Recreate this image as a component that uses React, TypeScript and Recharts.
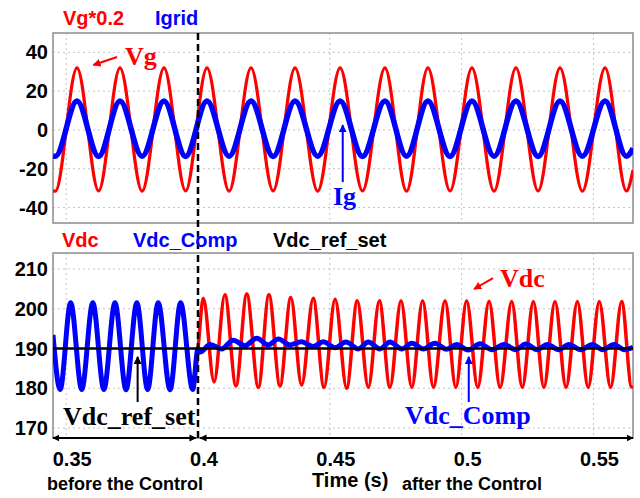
import {
  LineChart,
  Line,
  XAxis,
  YAxis,
  CartesianGrid,
  ReferenceLine,
  ReferenceArea,
} from 'recharts';

const SANS = '"Liberation Sans", Arial, sans-serif';
const SERIF = '"Liberation Serif", "Times New Roman", serif';

// x axis (s)
const timeDomain = [0.345, 0.565];
const timeTicks = [0.35, 0.4, 0.45, 0.5, 0.55];
const gridTimes = [0.35, 0.45, 0.5, 0.55];

// top panel: Vg*0.2 and Igrid, extremes
const acTicks = [-40, -20, 0, 20, 40];
const acTimes = [
  0.345, 0.3459, 0.3541, 0.3623, 0.3704, 0.3788, 0.3871, 0.3953, 0.4034,
  0.4118, 0.4201, 0.4285, 0.4368, 0.4454, 0.4539, 0.4624, 0.4709, 0.4791,
  0.4872, 0.4956, 0.5039, 0.5123, 0.5206, 0.529, 0.5373, 0.5458, 0.5544,
  0.5625, 0.565,
];
const vgValues = [
  -31.4, -31.6, 32.0, -31.5, 32.0, -31.6, 32.0, -31.5, 32.0, -31.6, 32.0,
  -31.5, 32.0, -31.6, 32.0, -31.5, 32.0, -31.6, 32.0, -31.5, 32.0, -31.6,
  32.0, -31.5, 32.0, -31.6, 32.0, -31.5, -20.7,
];
const igridValues = [
  -13.4, -13.6, 14.9, -13.7, 14.9, -13.6, 14.9, -13.7, 14.9, -13.6, 14.9,
  -13.7, 14.9, -13.6, 14.9, -13.7, 14.9, -13.6, 14.9, -13.7, 14.9, -13.6,
  14.9, -13.7, 14.9, -13.6, 14.9, -13.6, -9.5,
];

// bottom panel: Vdc, Vdc_Comp, Vdc_ref_set
const dcTicks = [170, 180, 190, 200, 210];
const beforeTimes = [
  0.345, 0.3477, 0.3517, 0.3559, 0.3601, 0.3643, 0.3685, 0.3727, 0.3768,
  0.3809, 0.3849, 0.3894, 0.3934, 0.398, 0.4,
];
const beforeValues = [
  193.4, 179.7, 201.5, 179.7, 201.5, 179.7, 201.5, 179.6, 201.5, 179.7,
  201.5, 179.6, 201.5, 179.7, 190.0,
];
const vdcAfterTimes = [
  0.402, 0.4061, 0.4102, 0.4144, 0.4185, 0.4229, 0.4269, 0.4311, 0.4352,
  0.4393, 0.4437, 0.4478, 0.452, 0.4564, 0.4604, 0.4646, 0.4688, 0.4728,
  0.477, 0.4811, 0.4852, 0.4893, 0.4937, 0.4978, 0.5019, 0.5061, 0.5104,
  0.5146, 0.519, 0.523, 0.5272, 0.5312, 0.5354, 0.5396, 0.5439, 0.548,
  0.5522, 0.5565, 0.5607, 0.5645, 0.565,
];
const vdcAfterValues = [
  202.6, 181.6, 203.5, 180.6, 203.7, 180.2, 203.5, 180.6, 202.8, 180.8,
  202.6, 180.2, 202.4, 180.0, 202.0, 180.2, 202.0, 180.2, 202.0, 180.2,
  202.0, 180.2, 202.0, 180.2, 202.0, 180.2, 201.9, 180.2, 201.8, 180.2,
  201.8, 180.2, 201.8, 180.2, 201.8, 180.2, 201.8, 180.2, 201.8, 180.3,
  180.5,
];
const compAfterTimes = [
  0.4008, 0.4046, 0.409, 0.4133, 0.4178, 0.4223, 0.4267, 0.4305, 0.4349,
  0.4393, 0.4437, 0.4475, 0.452, 0.4561, 0.4608, 0.4646, 0.469, 0.4728,
  0.4773, 0.4811, 0.4855, 0.4899, 0.4943, 0.4981, 0.5025, 0.507, 0.5115,
  0.5161, 0.5205, 0.5243, 0.5287, 0.5325, 0.5369, 0.5407, 0.5452, 0.5496,
  0.5534, 0.5578, 0.5616, 0.565,
];
const compAfterValues = [
  189.1, 191.0, 189.9, 192.1, 190.7, 192.6, 190.9, 192.4, 190.9, 191.7,
  190.5, 191.7, 190.2, 191.6, 189.9, 191.6, 189.9, 191.6, 189.9, 191.3,
  189.9, 191.3, 189.8, 191.0, 189.6, 191.2, 189.7, 191.0, 189.7, 191.1,
  189.7, 191.0, 189.7, 191.0, 189.7, 191.0, 189.7, 191.0, 189.7, 190.3,
];
const refTimes = [0.345, 0.565];
const refValues = [190, 190];

const toPoints = (ts: number[], vs: number[]) =>
  ts.map((t, i) => ({ t, v: vs[i] }));

const vgData = toPoints(acTimes, vgValues);
const igridData = toPoints(acTimes, igridValues);
const vdcData = toPoints(
  [...beforeTimes, ...vdcAfterTimes],
  [...beforeValues, ...vdcAfterValues]
);
const compData = toPoints(
  [...beforeTimes, ...compAfterTimes],
  [...beforeValues, ...compAfterValues]
);
const refData = toPoints(refTimes, refValues);

const tickStyle = { fontSize: 20, fontWeight: 'bold', fill: '#000', fontFamily: SANS };

const arrow = (id: string, both = false) => (p: any) => (
  <line
    x1={p.x1}
    y1={p.y1}
    x2={p.x2}
    y2={p.y2}
    stroke={p.stroke}
    strokeWidth={p.strokeWidth}
    markerEnd={`url(#${id})`}
    markerStart={both ? `url(#${id})` : undefined}
  />
);

function Markers({ prefix }: { prefix: string }) {
  const heads: [string, string][] = [
    ['r', '#ff0000'],
    ['b', '#0000ff'],
    ['k', '#000000'],
  ];
  return (
    <defs>
      {heads.map(([k, c]) => (
        <marker
          key={k}
          id={`${prefix}-${k}`}
          viewBox="0 0 10 10"
          refX="9"
          refY="5"
          markerWidth="4"
          markerHeight="4"
          orient="auto-start-reverse"
        >
          <path d="M0,0 L10,5 L0,10 z" fill={c} />
        </marker>
      ))}
    </defs>
  );
}

function TopPanel() {
  return (
    <LineChart
      width={640}
      height={253}
      margin={{ top: 33, right: 7, bottom: 30, left: 8 }}
    >
      <Markers prefix="top" />
      <CartesianGrid
        horizontalValues={acTicks}
        verticalValues={gridTimes}
        stroke="#c4c4c4"
        strokeDasharray="2 3"
      />
      <XAxis
        dataKey="t"
        type="number"
        domain={timeDomain}
        allowDataOverflow
        hide
      />
      <YAxis
        type="number"
        domain={[-48, 50]}
        ticks={acTicks}
        allowDataOverflow
        width={45}
        axisLine={false}
        tickLine={false}
        tickSize={3}
        tickMargin={2}
        tick={tickStyle}
      />
      <ReferenceArea
        x1={0.345}
        x2={0.565}
        y1={-48}
        y2={50}
        fill="none"
        stroke="#8c8c8c"
        strokeWidth={1.5}
        ifOverflow="visible"
      />
      <Line
        data={vgData}
        dataKey="v"
        type="monotone"
        stroke="#ff0000"
        strokeWidth={3.2}
        dot={false}
        activeDot={false}
        isAnimationActive={false}
      />
      <Line
        data={igridData}
        dataKey="v"
        type="monotone"
        stroke="#0000ff"
        strokeWidth={5.5}
        dot={false}
        activeDot={false}
        isAnimationActive={false}
      />
      <ReferenceLine
        segment={[
          { x: 0.4, y: 50 },
          { x: 0.4, y: -63.5 },
        ]}
        stroke="#000"
        strokeWidth={2.5}
        strokeDasharray="7 4"
        ifOverflow="visible"
      />
      <ReferenceLine
        segment={[
          { x: 0.3693, y: 37.6 },
          { x: 0.3603, y: 33.5 },
        ]}
        stroke="#ff0000"
        strokeWidth={2}
        ifOverflow="visible"
        shape={arrow('top-r')}
      />
      <ReferenceLine
        segment={[
          { x: 0.4549, y: -26.9 },
          { x: 0.4549, y: 2.5 },
        ]}
        stroke="#0000ff"
        strokeWidth={2}
        ifOverflow="visible"
        shape={arrow('top-b')}
      />
    </LineChart>
  );
}

function BottomPanel() {
  return (
    <LineChart
      width={640}
      height={272}
      margin={{ top: 27, right: 7, bottom: 30, left: 8 }}
    >
      <Markers prefix="bot" />
      <CartesianGrid
        horizontalValues={dcTicks}
        verticalValues={gridTimes}
        stroke="#c4c4c4"
        strokeDasharray="2 3"
      />
      <XAxis
        dataKey="t"
        type="number"
        domain={timeDomain}
        ticks={timeTicks}
        allowDataOverflow
        height={30}
        axisLine={false}
        tickLine={false}
        tickSize={8}
        tickMargin={6}
        tick={{ ...tickStyle, dx: 6 }}
        tickFormatter={(v: number) => String(v)}
      />
      <YAxis
        type="number"
        domain={[167.5, 214]}
        ticks={dcTicks}
        allowDataOverflow
        width={45}
        axisLine={false}
        tickLine={false}
        tickSize={3}
        tickMargin={2}
        tick={tickStyle}
      />
      <ReferenceArea
        x1={0.345}
        x2={0.565}
        y1={167.5}
        y2={214}
        fill="none"
        stroke="#8c8c8c"
        strokeWidth={1.5}
        ifOverflow="visible"
      />
      <Line
        data={vdcData}
        dataKey="v"
        type="monotone"
        stroke="#ff0000"
        strokeWidth={3.5}
        dot={false}
        activeDot={false}
        isAnimationActive={false}
      />
      <Line
        data={compData}
        dataKey="v"
        type="monotone"
        stroke="#0000ff"
        strokeWidth={5}
        dot={false}
        activeDot={false}
        isAnimationActive={false}
      />
      <Line
        data={refData}
        dataKey="v"
        type="linear"
        stroke="#000"
        strokeWidth={2.5}
        dot={false}
        activeDot={false}
        isAnimationActive={false}
      />
      <ReferenceLine
        x={0.4}
        stroke="#000"
        strokeWidth={2.5}
        strokeDasharray="7 4"
        ifOverflow="visible"
      />
      <ReferenceLine
        segment={[
          { x: 0.345, y: 167.5 },
          { x: 0.3992, y: 167.5 },
        ]}
        stroke="#000"
        strokeWidth={1.8}
        ifOverflow="visible"
        shape={arrow('bot-k', true)}
      />
      <ReferenceLine
        segment={[
          { x: 0.4008, y: 167.5 },
          { x: 0.565, y: 167.5 },
        ]}
        stroke="#000"
        strokeWidth={1.8}
        ifOverflow="visible"
        shape={arrow('bot-k', true)}
      />
      <ReferenceLine
        segment={[
          { x: 0.5119, y: 207.7 },
          { x: 0.5047, y: 204.95 },
        ]}
        stroke="#ff0000"
        strokeWidth={2}
        ifOverflow="visible"
        shape={arrow('bot-r')}
      />
      <ReferenceLine
        segment={[
          { x: 0.3771, y: 176.55 },
          { x: 0.3771, y: 187.9 },
        ]}
        stroke="#000"
        strokeWidth={2}
        ifOverflow="visible"
        shape={arrow('bot-k')}
      />
      <ReferenceLine
        segment={[
          { x: 0.5027, y: 176.55 },
          { x: 0.5027, y: 187.9 },
        ]}
        stroke="#0000ff"
        strokeWidth={2}
        ifOverflow="visible"
        shape={arrow('bot-b')}
      />
    </LineChart>
  );
}

function Labels() {
  const legend = { fontFamily: SANS, fontSize: 20, fontWeight: 'bold' };
  const note = { fontFamily: SERIF, fontSize: 26, fontWeight: 'bold' };
  const caption = { fontFamily: SANS, fontSize: 18, fontWeight: 'bold' };
  return (
    <svg
      width={640}
      height={498}
      style={{ position: 'absolute', left: 0, top: 0, pointerEvents: 'none' }}
    >
      <text x={63} y={25} fill="#ff0000" {...legend}>Vg*0.2</text>
      <text x={155} y={25} fill="#0000ff" {...legend}>Igrid</text>
      <text x={62} y={247} fill="#ff0000" {...legend}>Vdc</text>
      <text x={133} y={247} fill="#0000ff" {...legend}>Vdc_Comp</text>
      <text x={273} y={247} fill="#000" {...legend}>Vdc_ref_set</text>

      <text x={125} y={65} fill="#ff0000" {...note}>Vg</text>
      <text x={333} y={205} fill="#0000ff" {...note}>Ig</text>
      <text x={500} y={287} fill="#ff0000" {...note}>Vdc</text>
      <text x={63} y={425} fill="#000" {...note}>Vdc_ref_set</text>
      <text x={405} y={424} fill="#0000ff" {...note}>Vdc_Comp</text>

      <text x={312} y={487} fill="#000" fontFamily={SANS} fontSize={20} fontWeight="bold">
        Time (s)
      </text>
      <text x={47} y={490} fill="#000" {...caption}>before the Control</text>
      <text x={402} y={490} fill="#000" {...caption}>after the Control</text>
    </svg>
  );
}

export default function App() {
  return (
    <div
      style={{
        position: 'absolute',
        left: 0,
        top: 0,
        width: 640,
        height: 498,
        background: '#fff',
      }}
    >
      <div style={{ position: 'absolute', left: 0, top: 0 }}>
        <TopPanel />
      </div>
      <div style={{ position: 'absolute', left: 0, top: 226 }}>
        <BottomPanel />
      </div>
      <Labels />
    </div>
  );
}
